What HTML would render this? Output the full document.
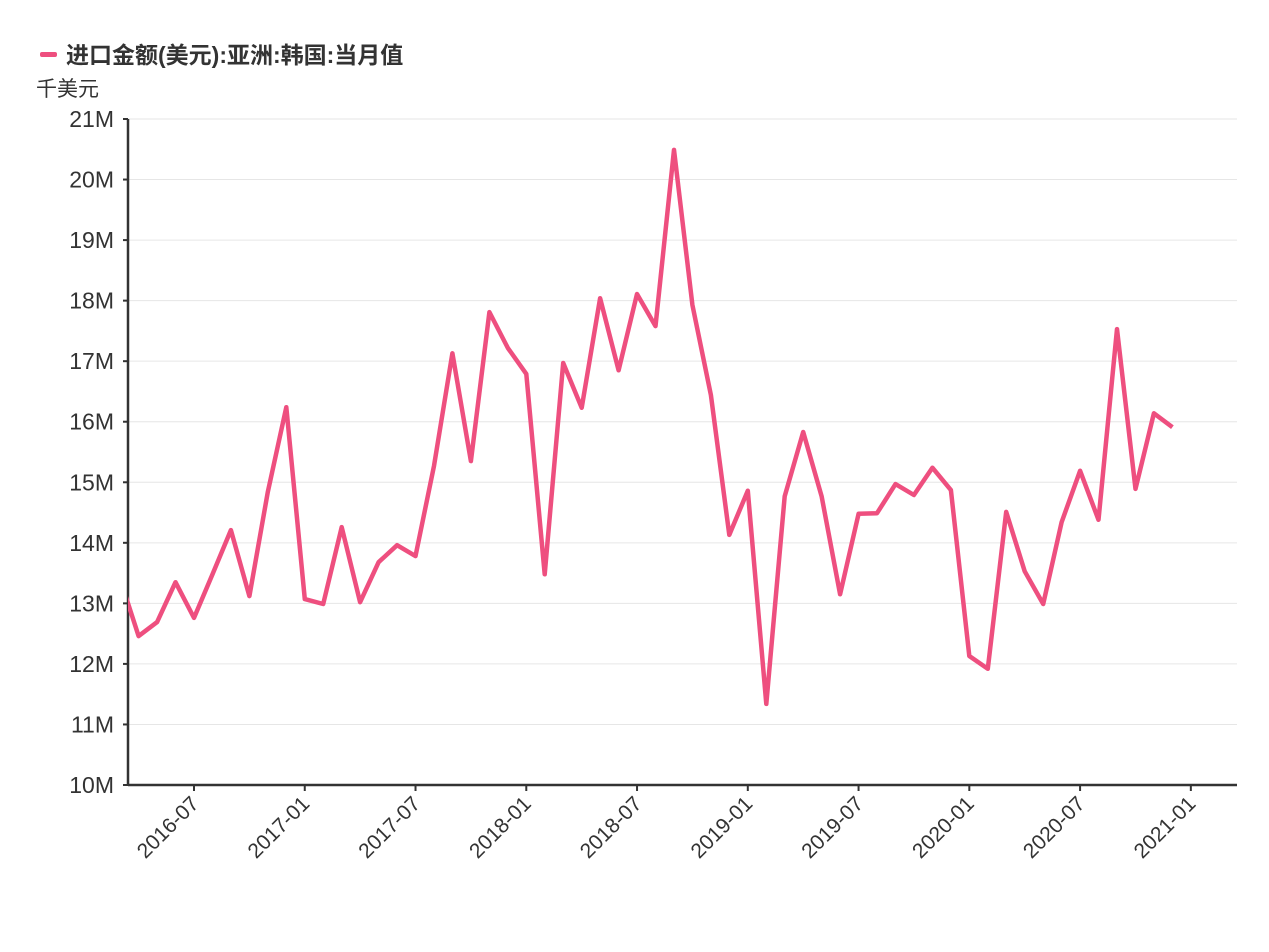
<!DOCTYPE html>
<html><head><meta charset="utf-8"><style>
body{margin:0;background:#fff;}
svg{display:block;font-family:"Liberation Sans","Noto Sans CJK SC",sans-serif;}
</style></head><body>
<svg id="chart" width="1269" height="952">
<g id="grid"></g>
<g id="yaxis"></g>
<g id="xaxis"></g>
<g id="series"></g>
<g>
<rect x="40" y="52" width="17" height="5" rx="2" fill="#ee4f7f"/>
<text x="66" y="63" font-size="23" font-weight="bold" fill="#333">进口金额(美元):亚洲:韩国:当月值</text>
</g>
<text x="36" y="96" font-size="21" fill="#333">千美元</text>
</svg>
<script>
const startMonth = "2016-03";
const values = [13.4,12.46,12.69,13.35,12.76,13.48,14.21,13.12,14.84,16.24,
13.07,12.99,14.26,13.02,13.68,13.96,13.78,15.27,17.13,15.35,17.81,17.22,
16.79,13.48,16.97,16.23,18.04,16.85,18.11,17.58,20.49,17.93,16.44,14.13,
14.86,11.34,14.77,15.83,14.77,13.15,14.48,14.49,14.97,14.79,15.24,14.87,
12.13,11.92,14.51,13.53,12.99,14.34,15.19,14.38,17.53,14.89,16.14,15.91];
const yTicks = [10,11,12,13,14,15,16,17,18,19,20,21];
const xTicks = ["2016-07","2017-01","2017-07","2018-01","2018-07","2019-01","2019-07","2020-01","2020-07","2021-01"];

const NS="http://www.w3.org/2000/svg";
const L=128,R=1237,T=119,B=785;
function y(v){return B-(v-10)/(21-10)*(B-T);}
function mIdx(s){const [a,b]=s.split("-").map(Number);return a*12+b-1;}
const m0=mIdx("2016-07"), x0=194, mw=18.46;
function x(i){return x0+(i-m0)*mw;}
function mk(tag,attrs,parent){const e=document.createElementNS(NS,tag);for(const k in attrs)e.setAttribute(k,attrs[k]);parent.appendChild(e);return e;}
const grid=document.getElementById("grid"),ya=document.getElementById("yaxis"),xa=document.getElementById("xaxis"),se=document.getElementById("series");
yTicks.forEach(v=>{
 if(v>10){const g=mk("line",{x1:L,x2:R,y1:y(v),y2:y(v),stroke:"#e6e6e6","stroke-width":1},grid);
 
 }
 const tk=mk("line",{x1:L-5,x2:L,y1:y(v),y2:y(v),stroke:"#333","stroke-width":2},ya);
 
 
 const t=mk("text",{x:L-14,y:y(v)+8,"text-anchor":"end","font-size":23,fill:"#333"},ya);
 t.textContent=v+"M";
 
 
});
const yl=mk("line",{x1:L,x2:L,y1:T,y2:B,stroke:"#333","stroke-width":2.5},ya);


const xl=mk("line",{x1:L,x2:R,y1:B,y2:B,stroke:"#333","stroke-width":2.5},xa);


xTicks.forEach(s=>{
 const xx=x(mIdx(s));
 const tk=mk("line",{x1:xx,x2:xx,y1:B,y2:B+6,stroke:"#333","stroke-width":2},xa);
 
 
 const t=mk("text",{x:xx+6,y:B+20,"text-anchor":"end","font-size":21,fill:"#333",transform:`rotate(-45 ${xx+6} ${B+20})`},xa);
 t.textContent=s;
 
 
});
mk("clipPath",{id:"clp"},document.getElementById("chart")).appendChild((()=>{const r=document.createElementNS(NS,"rect");r.setAttribute("x",L);r.setAttribute("y",0);r.setAttribute("width",R-L);r.setAttribute("height",952);return r;})());
const s0=mIdx(startMonth);
const d=values.map((v,i)=>(i?"L":"M")+x(s0+i).toFixed(1)+","+y(v).toFixed(1)).join(" ");
const p=mk("path",{d:d,fill:"none",stroke:"#ee4f7f","stroke-width":4.5,"stroke-linejoin":"round","clip-path":"url(#clp)"},se);


</script>
</body></html>
